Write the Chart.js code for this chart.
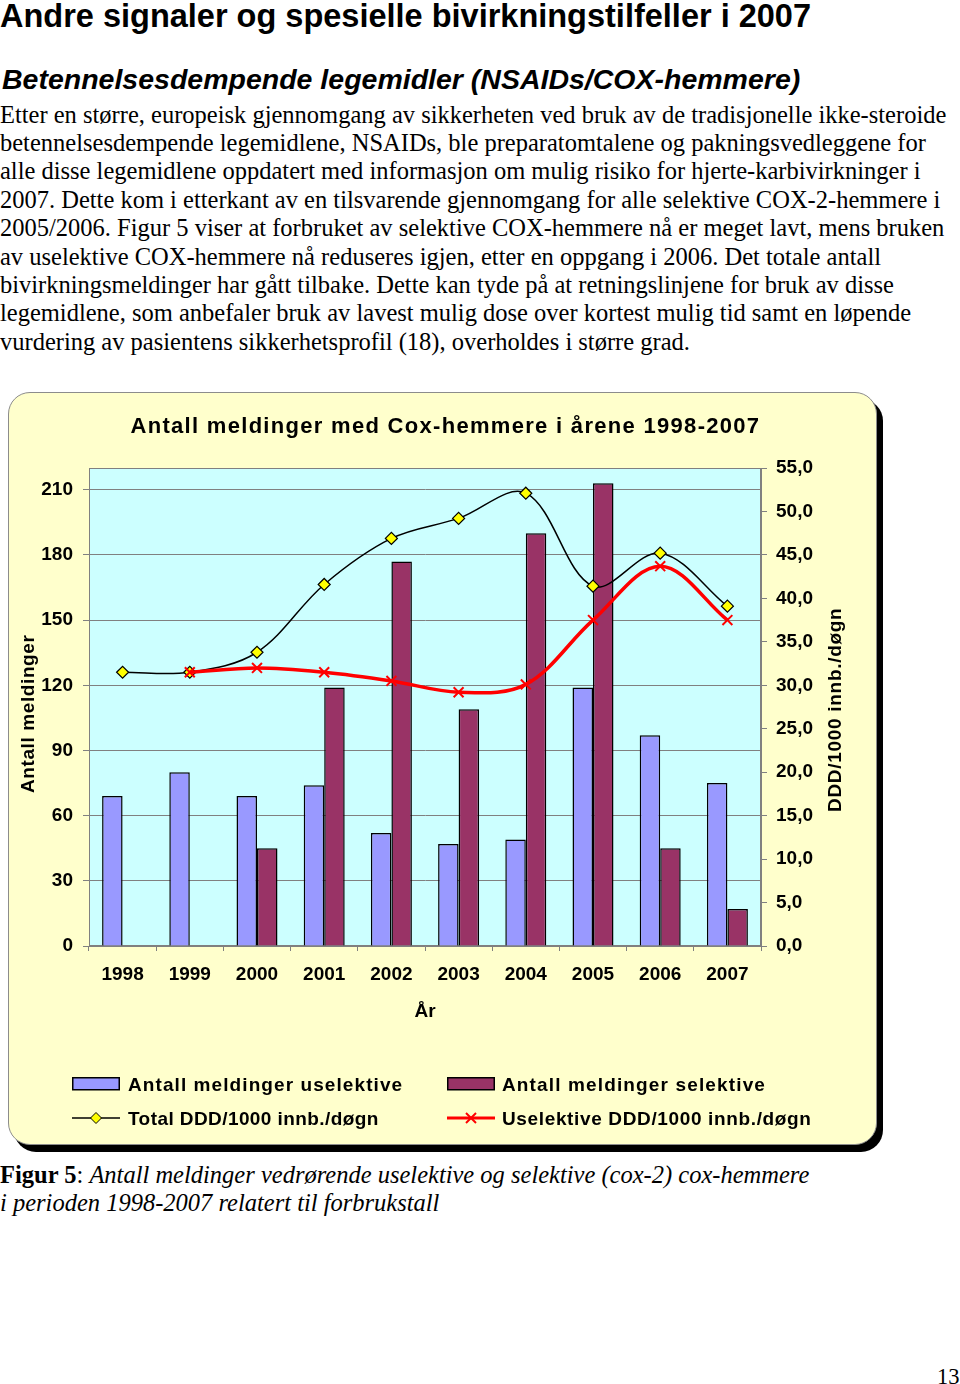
<!DOCTYPE html>
<html><head><meta charset="utf-8">
<script src="https://cdn.jsdelivr.net/npm/chart.js@4"></script>
<style>
body{margin:0;width:960px;height:1384px;position:relative;background:#fff;overflow:hidden;}
.t{position:absolute;white-space:nowrap;line-height:1;color:#000;}
.h1{font:bold 32.5px "Liberation Sans",Arial,sans-serif;left:0;top:-2.5px;}
.h2{font:italic bold 28.5px "Liberation Sans",Arial,sans-serif;left:2px;top:63px;}
.p{font:24.5px "Liberation Serif","Times New Roman",serif;left:0;}
.pn{font:22.5px "Liberation Serif","Times New Roman",serif;}
.cf{font-family:"Liberation Sans",Arial,sans-serif;font-weight:bold;}
#box{position:absolute;left:8px;top:392px;width:867px;height:751px;background:#FFFFCC;border:1px solid #8c8c8c;border-radius:22px;box-shadow:6px 7px 0 #000;}
#wrap{position:absolute;left:8px;top:392px;width:869px;height:753px;}
.rot{transform-origin:0 0;transform:rotate(-90deg);}
svg{position:absolute;}
</style></head>
<body>
<div class="t h1">Andre signaler og spesielle bivirkningstilfeller i 2007</div>
<div class="t h2">Betennelsesdempende legemidler (NSAIDs/COX-hemmere)</div>
<div class="t p" style="top:100.5px">Etter en større, europeisk gjennomgang av sikkerheten ved bruk av de tradisjonelle ikke-steroide</div>
<div class="t p" style="top:128.9px">betennelsesdempende legemidlene, NSAIDs, ble preparatomtalene og pakningsvedleggene for</div>
<div class="t p" style="top:157.3px">alle disse legemidlene oppdatert med informasjon om mulig risiko for hjerte-karbivirkninger i</div>
<div class="t p" style="top:185.7px">2007. Dette kom i etterkant av en tilsvarende gjennomgang for alle selektive COX-2-hemmere i</div>
<div class="t p" style="top:214.1px">2005/2006. Figur 5 viser at forbruket av selektive COX-hemmere nå er meget lavt, mens bruken</div>
<div class="t p" style="top:242.5px">av uselektive COX-hemmere nå reduseres igjen, etter en oppgang i 2006. Det totale antall</div>
<div class="t p" style="top:270.9px">bivirkningsmeldinger har gått tilbake. Dette kan tyde på at retningslinjene for bruk av disse</div>
<div class="t p" style="top:299.3px">legemidlene, som anbefaler bruk av lavest mulig dose over kortest mulig tid samt en løpende</div>
<div class="t p" style="top:327.7px">vurdering av pasientens sikkerhetsprofil (18), overholdes i større grad.</div>

<div id="box"></div>
<div id="wrap"><canvas id="c"></canvas></div>

<div class="t cf" style="left:130.5px;top:415.4px;font-size:22px;letter-spacing:1.3px">Antall meldinger med Cox-hemmere i årene 1998-2007</div>
<div class="t cf rot" style="left:18px;top:793px;font-size:19px;letter-spacing:0.6px">Antall meldinger</div>
<div class="t cf rot" style="left:825px;top:812px;font-size:19px;letter-spacing:0.7px">DDD/1000 innb./døgn</div>

<svg style="left:72px;top:1077px" width="48" height="14"><rect x="0.75" y="0.75" width="46.5" height="12" fill="#9999FF" stroke="#000" stroke-width="1.5"/></svg>
<div class="t cf" style="left:128px;top:1074.7px;font-size:19px;letter-spacing:1.08px">Antall meldinger uselektive</div>
<svg style="left:447px;top:1077px" width="48" height="14"><rect x="0.75" y="0.75" width="46.5" height="12" fill="#993366" stroke="#000" stroke-width="1.5"/></svg>
<div class="t cf" style="left:502px;top:1074.7px;font-size:19px;letter-spacing:1.14px">Antall meldinger selektive</div>
<svg style="left:72px;top:1111px" width="48" height="14"><line x1="0" y1="7" x2="48" y2="7" stroke="#000" stroke-width="1.5"/><polygon points="24,1.5 29.5,7 24,12.5 18.5,7" fill="#FFFF00" stroke="#000" stroke-width="1"/></svg>
<div class="t cf" style="left:128px;top:1108.7px;font-size:19px;letter-spacing:0.42px">Total DDD/1000 innb./døgn</div>
<svg style="left:447px;top:1111px" width="48" height="14"><line x1="0" y1="7" x2="48" y2="7" stroke="#FF0000" stroke-width="3"/><line x1="19" y1="2" x2="29" y2="12" stroke="#FF0000" stroke-width="2"/><line x1="29" y1="2" x2="19" y2="12" stroke="#FF0000" stroke-width="2"/></svg>
<div class="t cf" style="left:502px;top:1108.7px;font-size:19px;letter-spacing:0.64px">Uselektive DDD/1000 innb./døgn</div>

<div class="t p" style="top:1160.5px"><b>Figur 5</b>: <i>Antall meldinger vedrørende uselektive og selektive (cox-2) cox-hemmere</i></div>
<div class="t p" style="top:1188.9px"><i>i perioden 1998-2007 relatert til forbrukstall</i></div>
<div class="t pn" style="top:1364px;left:937px">13</div>

<script>
const years = ['1998','1999','2000','2001','2002','2003','2004','2005','2006','2007'];
const meldingerUselektive = [69, 80, 69, 74, 52, 47, 49, 119, 97, 75];
const meldingerSelektive = [null, null, 45, 119, 177, 109, 190, 213, 45, 17];
const totalDDD = [31.5, 31.5, 33.8, 41.6, 46.9, 49.2, 52.1, 41.4, 45.2, 39.1];
const uselektiveDDD = [null, 31.5, 32.0, 31.5, 30.5, 29.2, 30.1, 37.5, 43.7, 37.5];
const leftMin = 0, leftMax = 220, leftStep = 30;
const rightMin = 0, rightMax = 55, rightStep = 5;

Chart.defaults.font.family = '"Liberation Sans", Arial, sans-serif';
const tickFont = {size: 19, weight: 'bold'};

const plotBg = {
  id: 'plotBg',
  beforeDraw(chart) {
    const {ctx, chartArea: a} = chart;
    ctx.save();
    ctx.fillStyle = '#CCFFFF';
    ctx.fillRect(a.left, a.top, a.right - a.left, a.bottom - a.top);
    ctx.strokeStyle = '#808080';
    ctx.lineWidth = 1;
    ctx.strokeRect(a.left + 0.5, a.top + 0.5, a.right - a.left - 1, a.bottom - a.top - 1);
    ctx.restore();
  }
};

new Chart(document.getElementById('c'), {
  type: 'bar',
  data: {
    labels: years,
    datasets: [
      {type: 'line', label: 'Uselektive DDD/1000 innb./døgn', data: uselektiveDDD, yAxisID: 'y1', order: 0,
       borderColor: '#FF0000', borderWidth: 3.5, tension: 0.35, fill: false,
       pointStyle: 'crossRot', pointRadius: 7, pointBorderColor: '#FF0000', pointBorderWidth: 2, pointBackgroundColor: '#FF0000'},
      {type: 'line', label: 'Total DDD/1000 innb./døgn', data: totalDDD, yAxisID: 'y1', order: 1,
       borderColor: '#000000', borderWidth: 1.5, tension: 0.35, fill: false,
       pointStyle: 'rectRot', pointRadius: 6, pointBackgroundColor: '#FFFF00', pointBorderColor: '#000', pointBorderWidth: 1.2},
      {label: 'Antall meldinger uselektive', data: meldingerUselektive, yAxisID: 'y', order: 2,
       backgroundColor: '#9999FF', borderColor: '#000', borderWidth: 1.5, barPercentage: 1, categoryPercentage: 0.61},
      {label: 'Antall meldinger selektive', data: meldingerSelektive, yAxisID: 'y', order: 2,
       backgroundColor: '#993366', borderColor: '#000', borderWidth: 1.5, barPercentage: 1, categoryPercentage: 0.61}
    ]
  },
  options: {
    responsive: true, maintainAspectRatio: false, animation: false,
    layout: {padding: {top: 76, left: 0, right: 0, bottom: 0}},
    plugins: {legend: {display: false}, tooltip: {enabled: false}, title: {display: false}},
    scales: {
      x: {
        offset: true,
        grid: {drawOnChartArea: false, tickLength: 5, color: '#808080', offset: true},
        border: {color: '#808080'},
        ticks: {padding: 12, color: '#000', font: tickFont},
        title: {display: true, text: 'År', color: '#000', font: tickFont, padding: {top: 0, bottom: 121.6}},
        afterFit(s) { s.height = 199; }
      },
      y: {
        position: 'left', min: leftMin, max: leftMax,
        ticks: {stepSize: leftStep, includeBounds: false, padding: 10, color: '#000', font: tickFont},
        grid: {color: '#808080', tickLength: 6, lineWidth: 1},
        border: {color: '#808080'},
        afterFit(s) { s.width = 81; }
      },
      y1: {
        position: 'right', min: rightMin, max: rightMax,
        ticks: {stepSize: rightStep, padding: 9, color: '#000', font: tickFont,
                callback: v => v.toFixed(1).replace('.', ',')},
        grid: {drawOnChartArea: false, tickLength: 6, color: '#808080'},
        border: {color: '#808080'},
        afterFit(s) { s.width = 116; }
      }
    }
  },
  plugins: [plotBg]
});
</script>
</body></html>
